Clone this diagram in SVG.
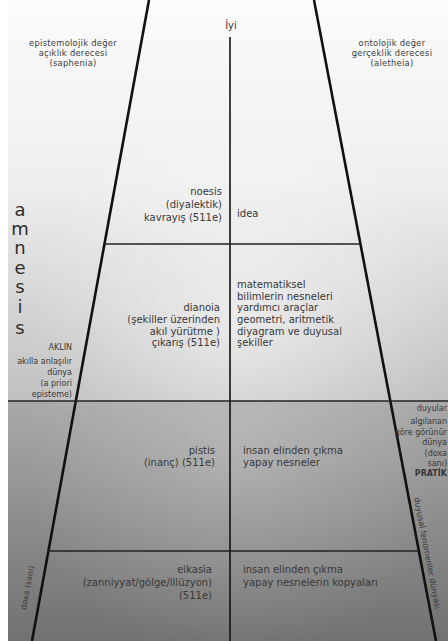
<svg xmlns="http://www.w3.org/2000/svg" width="448" height="641" viewBox="0 0 448 641">
<defs>
<linearGradient id="gUp" x1="0" y1="0" x2="0" y2="1">
<stop offset="0" stop-color="#fbfbfb"/>
<stop offset="0.45" stop-color="#efefef"/>
<stop offset="1" stop-color="#c0c0c0"/>
</linearGradient>
<radialGradient id="rUp" cx="240" cy="320" r="210" gradientUnits="userSpaceOnUse">
<stop offset="0" stop-color="#ffffff" stop-opacity="0.55"/>
<stop offset="1" stop-color="#ffffff" stop-opacity="0"/>
</radialGradient>
<linearGradient id="gLow" x1="0" y1="0" x2="0" y2="1">
<stop offset="0" stop-color="#a9a9a9"/>
<stop offset="1" stop-color="#717171"/>
</linearGradient>
<radialGradient id="rLow" cx="235" cy="455" r="210" gradientUnits="userSpaceOnUse">
<stop offset="0" stop-color="#ffffff" stop-opacity="0.22"/>
<stop offset="1" stop-color="#ffffff" stop-opacity="0"/>
</radialGradient>
</defs>
<style>
text{font-family:"DejaVu Sans","Liberation Sans",sans-serif;fill:#383838}
.s{font-size:8px}
.t{font-size:8.3px;letter-spacing:0.3px}
.m{font-size:10px}
.r{text-anchor:end}
.c{text-anchor:middle}
.big{font-size:18px;text-anchor:middle;fill:#2e2e2e}
.side{stroke:#111111;stroke-width:2.6;fill:none}
.div{stroke:#222222;stroke-width:1.3;fill:none}
.axis{stroke:#111111;stroke-width:1.6;fill:none}
</style>
<rect x="0" y="0" width="448" height="641" fill="#ffffff"/>
<rect x="8" y="0" width="440" height="401" fill="url(#gUp)"/>
<rect x="8" y="0" width="440" height="401" fill="url(#rUp)"/>
<rect x="8" y="401" width="440" height="240" fill="url(#gLow)"/>
<rect x="8" y="401" width="440" height="240" fill="url(#rLow)"/>
<g id="connectors">
<line class="side" x1="149" y1="0" x2="32" y2="641"/>
<line class="side" x1="314" y1="0" x2="436" y2="641"/>
<line class="axis" x1="230" y1="37" x2="230" y2="641"/>
<line class="div" x1="104.5" y1="244" x2="360.4" y2="244"/>
<line class="div" x1="8" y1="401" x2="448" y2="401"/>
<line class="div" x1="48.4" y1="551" x2="418.9" y2="551"/>
</g>
<g id="epistemolojik">
<text class="t c" x="73" y="46">epistemolojik değer</text>
<text class="t c" x="73" y="56">açıklık derecesi</text>
<text class="t c" x="73" y="66">(saphenia)</text>
</g>
<g id="ontolojik">
<text class="t c" x="392" y="46">ontolojik değer</text>
<text class="t c" x="392" y="56">gerçeklik derecesi</text>
<text class="t c" x="392" y="66">(aletheia)</text>
</g>
<g id="iyi">
<text class="m c" x="231" y="29">İyi</text>
</g>
<g id="noesis">
<text class="m r" x="222" y="195">noesis</text>
<text class="m r" x="222" y="208">(diyalektik)</text>
<text class="m r" x="222" y="221">kavrayış (511e)</text>
</g>
<g id="idea">
<text class="m" x="237" y="217">idea</text>
</g>
<g id="dianoia">
<text class="m r" x="220" y="311">dianoia</text>
<text class="m r" x="220" y="323">(şekiller üzerinden</text>
<text class="m r" x="220" y="335">akıl yürütme )</text>
<text class="m r" x="220" y="346">çıkarış (511e)</text>
</g>
<g id="matematik">
<text class="m" x="237" y="288">matematiksel</text>
<text class="m" x="237" y="300">bilimlerin nesneleri</text>
<text class="m" x="237" y="311">yardımcı araçlar</text>
<text class="m" x="237" y="323">geometri, aritmetik</text>
<text class="m" x="237" y="335">diyagram ve duyusal</text>
<text class="m" x="237" y="346">şekiller</text>
</g>
<g id="pistis">
<text class="m r" x="215" y="454">pistis</text>
<text class="m r" x="215" y="466">(inanç) (511e)</text>
</g>
<g id="yapay">
<text class="m" x="243" y="454">insan elinden çıkma</text>
<text class="m" x="243" y="466">yapay nesneler</text>
</g>
<g id="eikasia">
<text class="m r" x="212" y="573">eikasia</text>
<text class="m r" x="212" y="586">(zanniyyat/gölge/illüzyon)</text>
<text class="m r" x="212" y="599">(511e)</text>
</g>
<g id="kopya">
<text class="m" x="243" y="573">insan elinden çıkma</text>
<text class="m" x="243" y="586">yapay nesnelerin kopyaları</text>
</g>
<g id="amnesis">
<text class="big" x="20" y="216">a</text>
<text class="big" x="20" y="235">m</text>
<text class="big" x="20" y="254">n</text>
<text class="big" x="20" y="274">e</text>
<text class="big" x="20" y="293">s</text>
<text class="big" x="20" y="313">i</text>
<text class="big" x="20" y="334">s</text>
</g>
<g id="akil">
<text class="s r" x="72" y="350">AKLIN</text>
<text class="s r" x="72" y="364">akılla anlaşılır</text>
<text class="s r" x="72" y="375">dünya</text>
<text class="s r" x="72" y="386">(a priori</text>
<text class="s r" x="72" y="397">episteme)</text>
</g>
<g id="duyusal">
<text class="s r" x="447" y="411">duyular</text>
<text class="s r" x="447" y="424">algılanan</text>
<text class="s r" x="447" y="435">göre görünür</text>
<text class="s r" x="447" y="445">dünya</text>
<text class="s r" x="447" y="456">(doxa</text>
<text class="s r" x="447" y="466">sanı)</text>
<text class="s r" x="447" y="476" font-weight="bold">PRATİK</text>
</g>
<g id="fenomen">
<text class="s" transform="translate(414 498) rotate(79.2)">duyusal fenomenler dünyası</text>
</g>
<g id="doxa">
<text class="s" transform="translate(26 610) rotate(-79.6)">doxa (sanı)</text>
</g>
</svg>
